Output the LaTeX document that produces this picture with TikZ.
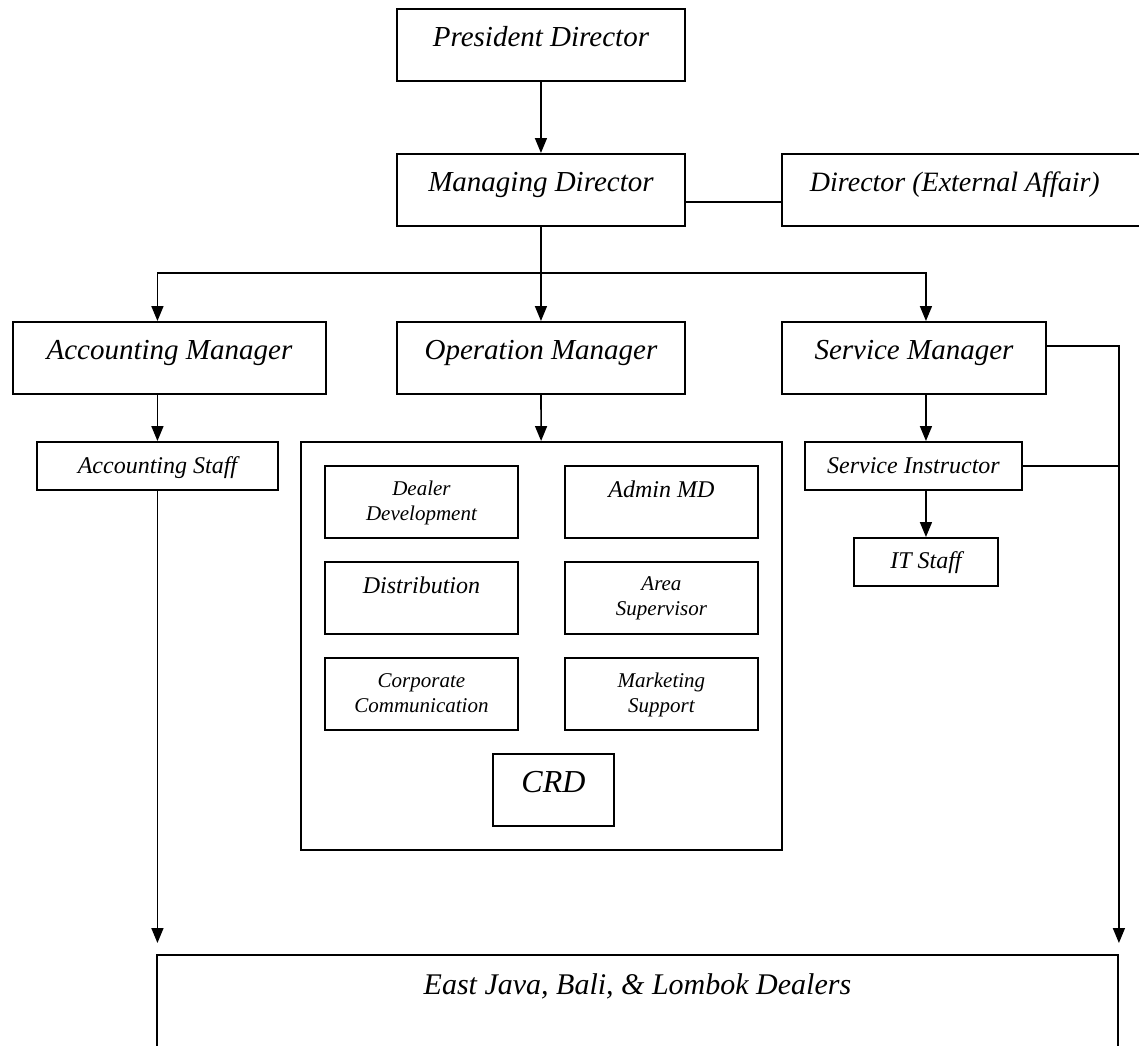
\documentclass[tikz,border=0pt]{standalone}
\usepackage{fontspec}
\setmainfont{Liberation Serif}
\usetikzlibrary{arrows.meta,positioning}

\tikzset{
  box/.style={draw, line width=1.9pt, inner sep=0pt, align=center, anchor=north west},
  head/.style={box, font=\fontsize{29}{35}\selectfont\itshape, text height=38pt, text depth=34pt},
  staff/.style={box, font=\fontsize{24}{29}\selectfont\itshape, text height=32pt, text depth=16pt},
  unit/.style={box, minimum width=193pt, font=\fontsize{21}{25}\selectfont\itshape, text height=55pt, text depth=17pt},
  unitbig/.style={box, minimum width=193pt, font=\fontsize{24}{29}\selectfont\itshape, text height=32pt, text depth=40pt},
  link/.style={line width=1.6pt},
  arr/.style={link, -{Triangle[length=15pt,width=12pt]}}
}

\begin{document}
\begin{tikzpicture}[x=1pt, y=-1pt]
  \useasboundingbox (0,0) rectangle (1139,1045);

  % Directors
  \node[head, minimum width=288pt] (pres) at (396,8) {President Director};
  \node[head, minimum width=288pt] (md) at (396,153) {Managing Director};
  \node[head, font=\fontsize{28}{34}\selectfont\itshape, text width=350pt, inner xsep=28pt, align=flush left] (dea) at (781,153) {Director (External Affair)};

  % Managers
  \node[head, minimum width=313pt] (accmgr) at (12,321) {Accounting Manager};
  \node[head, minimum width=288pt] (opmgr) at (396,321) {Operation Manager};
  \node[head, minimum width=264pt] (smgr) at (781,321) {Service Manager};

  % Accounting
  \node[staff, minimum width=241pt] (accstaff) at (36,441) {Accounting Staff};

  % Operation departments
  \node[box, minimum width=481pt, minimum height=408pt] (opdept) at (300,441) {};
  \node[unit] (dealerdev) at (324,465) {Dealer\\Development};
  \node[unitbig] (adminmd) at (564,465) {Admin MD};
  \node[unitbig] (distrib) at (324,561) {Distribution};
  \node[unit, text height=54pt, text depth=18pt] (areasup) at (564,561) {Area\\Supervisor};
  \node[unit] (corpcomm) at (324,657) {Corporate\\Communication};
  \node[unit] (mktsup) at (564,657) {Marketing\\Support};
  \node[box, minimum width=121pt, font=\fontsize{32}{38}\selectfont\itshape, text height=39pt, text depth=33pt] (crd) at (492,753) {CRD};

  % Service
  \node[staff, minimum width=217pt] (sinstr) at (804,441) {Service Instructor};
  \node[staff, minimum width=144pt, text height=31pt, text depth=17pt] (itstaff) at (853,537) {IT Staff};

  % Dealers
  \node[box, minimum width=961pt, font=\fontsize{30}{36}\selectfont\itshape, text height=40pt, text depth=140pt] (dealers) at (156,954) {East Java, Bali, \& Lombok Dealers};

  % Connectors
  \coordinate (split) at (540,273);
  \draw[arr] (pres) -- (md);
  \draw[link] ([yshift=-12pt]md.east) -- ([yshift=-12pt]md.east -| dea.west);
  \draw[arr] (md) -- (opmgr);
  \draw[arr] (split) -| (accmgr.north -| accstaff.north);
  \draw[arr] (split) -| (smgr.north -| itstaff.north);
  \draw[arr] (accmgr.south -| accstaff.north) -- (accstaff);
  \draw[arr] (opmgr) -- (opdept);
  \draw[arr] (smgr.south -| itstaff.north) -- (sinstr.north -| itstaff.north);
  \draw[arr] (sinstr.south -| itstaff.north) -- (itstaff);
  \draw[arr, shorten >=11pt] (accstaff) -- (accstaff |- dealers.north);
  \draw[arr, shorten >=11pt] ([yshift=12pt]smgr.east) -| (dealers.north east);
  \draw[link] (sinstr.east) -- (sinstr.east -| dealers.north east);
\end{tikzpicture}
\end{document}
